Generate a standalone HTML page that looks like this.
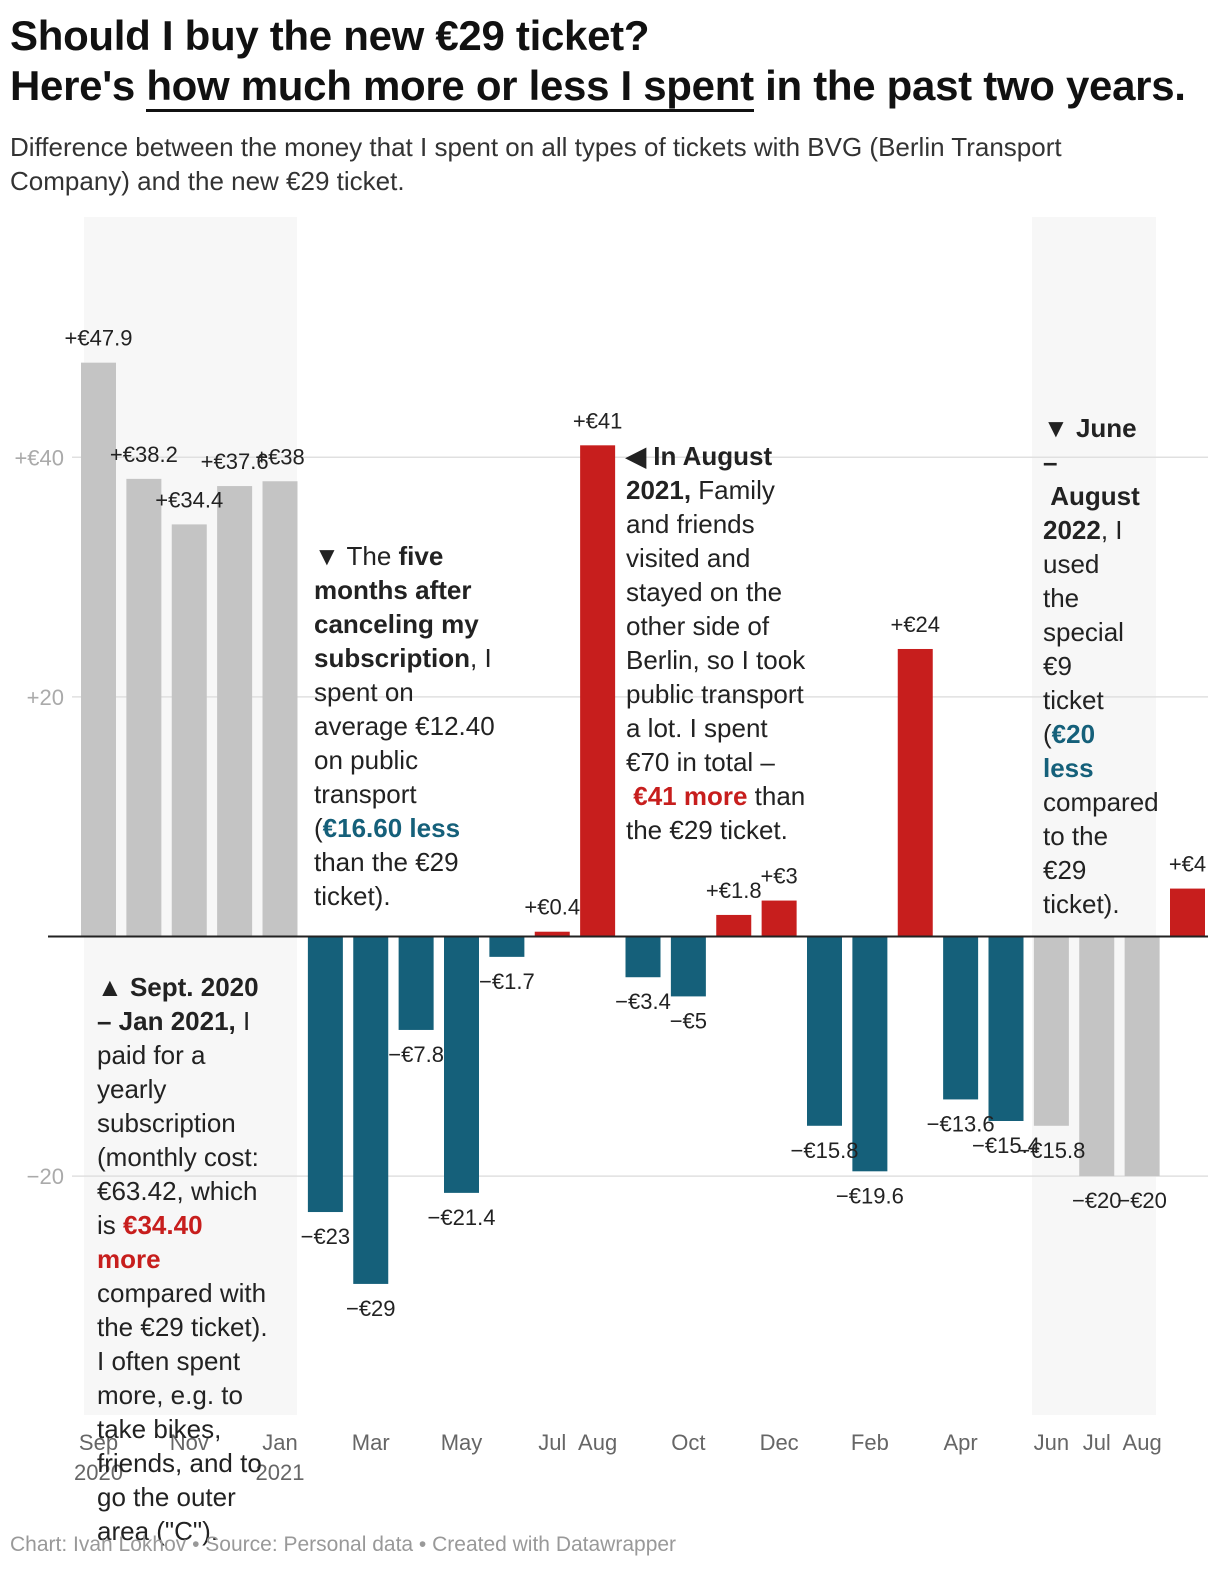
<!DOCTYPE html>
<html><head><meta charset="utf-8">
<style>
body{margin:0;width:1220px;height:1570px;background:#fff;font-family:"Liberation Sans",sans-serif;position:relative;overflow:hidden;color:#222}
.t{position:absolute;left:10px;font-size:42px;font-weight:bold;color:#111;white-space:nowrap;letter-spacing:-0.3px}
.sub{position:absolute;left:10px;top:130px;font-size:26px;line-height:34px;color:#333;width:1140px}
.ann{position:absolute;font-size:26px;line-height:34px;color:#222;white-space:nowrap}
.red{color:#c71e1d;font-weight:bold}.blue{color:#15607a;font-weight:bold}
.foot{position:absolute;left:10px;top:1533px;font-size:21px;color:#999}
svg{position:absolute;left:0;top:0}
</style></head><body>
<div class="t" style="top:12px">Should I buy the new €29 ticket?</div>
<div class="t" style="top:62px">Here's <span style="border-bottom:3px solid #111">how much more or less I spent</span> in the past two years.</div>
<div class="sub">Difference between the money that I spent on all types of tickets with BVG (Berlin Transport Company) and the new €29 ticket.</div>
<svg id="chart" width="1220" height="1570"></svg>
<div class="ann" style="left:314px;top:539px">▼ The <b>five<br>months after<br>canceling my<br>subscription</b>, I<br>spent on<br>average €12.40<br>on public<br>transport<br>(<span class="blue">€16.60 less</span><br>than the €29<br>ticket).</div>
<div class="ann" style="left:626px;top:439px"><b>◀ In August<br>2021,</b> Family<br>and friends<br>visited and<br>stayed on the<br>other side of<br>Berlin, so I took<br>public transport<br>a lot. I spent<br>€70 in total –<br>&nbsp;<span class="red">€41 more</span> than<br>the €29 ticket.</div>
<div class="ann" style="left:1043px;top:411px"><b>▼ June<br>–<br>&nbsp;August<br>2022</b>, I<br>used<br>the<br>special<br>€9<br>ticket<br>(<span class="blue">€20<br>less</span><br>compared<br>to the<br>€29<br>ticket).</div>
<div class="ann" style="left:97px;top:970px"><b>▲ Sept. 2020<br>– Jan 2021,</b> I<br>paid for a<br>yearly<br>subscription<br>(monthly cost:<br>€63.42, which<br>is <span class="red">€34.40<br>more</span><br>compared with<br>the €29 ticket).<br>I often spent<br>more, e.g. to<br>take bikes,<br>friends, and to<br>go the outer<br>area ("C").</div>
<div class="foot">Chart: Ivan Lokhov • Source: Personal data • Created with Datawrapper</div>
<script>
const months=["Sep","Oct","Nov","Dec","Jan","Feb","Mar","Apr","May","Jun","Jul","Aug","Sep","Oct","Nov","Dec","Jan","Feb","Mar","Apr","May","Jun","Jul","Aug","Sep"];
const values=[47.9,38.2,34.4,37.6,38,-23,-29,-7.8,-21.4,-1.7,0.4,41,-3.4,-5,1.8,3,-15.8,-19.6,24,-13.6,-15.4,-15.8,-20,-20,4];
const grayIdx=[0,1,2,3,4,21,22,23];
const labels=["+€47.9","+€38.2","+€34.4","+€37.6","+€38","−€23","−€29","−€7.8","−€21.4","−€1.7","+€0.4","+€41","−€3.4","−€5","+€1.8","+€3","−€15.8","−€19.6","+€24","−€13.6","−€15.4","−€15.8","−€20","−€20","+€4"];
const xTicks=[[0,"Sep","2020"],[2,"Nov",""],[4,"Jan","2021"],[6,"Mar",""],[8,"May",""],[10,"Jul",""],[11,"Aug",""],[13,"Oct",""],[15,"Dec",""],[17,"Feb",""],[19,"Apr",""],[21,"Jun",""],[22,"Jul",""],[23,"Aug",""]];
const yTicks=[[40,"+€40"],[20,"+20"],[-20,"−20"]];
const svg=document.getElementById('chart');const NS="http://www.w3.org/2000/svg";
const y=v=>936.5-v*11.98;const bx=i=>81+i*45.375;const bw=35;
function mk(t,a,p){const e=document.createElementNS(NS,t);for(const k in a)e.setAttribute(k,a[k]);(p||svg).appendChild(e);return e;}
let b1=mk('rect',{x:84,y:217,width:213,height:1198,fill:'#f7f7f7'});


let b2=mk('rect',{x:1032,y:217,width:124,height:1198,fill:'#f7f7f7'});


yTicks.forEach(t=>{const g=mk('line',{x1:72,x2:1208,y1:y(t[0]),y2:y(t[0]),stroke:'#e0e0e0','stroke-width':1.5});


const l=mk('text',{x:64,y:y(t[0])+8,'text-anchor':'end','font-size':22,fill:'#aaa'});l.textContent=t[1];

});
values.forEach((v,i)=>{const c=grayIdx.includes(i)?'#c4c4c4':(v>=0?'#c71e1d':'#15607a');
const r=mk('rect',{x:bx(i),y:Math.min(y(v),y(0)),width:bw,height:Math.abs(y(v)-y(0)),fill:c});

});
const z=mk('line',{x1:48,x2:1208,y1:y(0),y2:y(0),stroke:'#222','stroke-width':2});


values.forEach((v,i)=>{const ty=v>=0?y(v)-17:y(v)+32;
const t=mk('text',{x:bx(i)+bw/2,y:ty,'text-anchor':'middle','font-size':22,fill:'#222'});t.textContent=labels[i];

});
xTicks.forEach(t=>{const cx=bx(t[0])+bw/2;const a=mk('text',{x:cx,y:1450,'text-anchor':'middle','font-size':22,fill:'#666'});a.textContent=t[1];


if(t[2]){const b=mk('text',{x:cx,y:1480,'text-anchor':'middle','font-size':22,fill:'#666'});b.textContent=t[2];

}});
</script>
</body></html>
